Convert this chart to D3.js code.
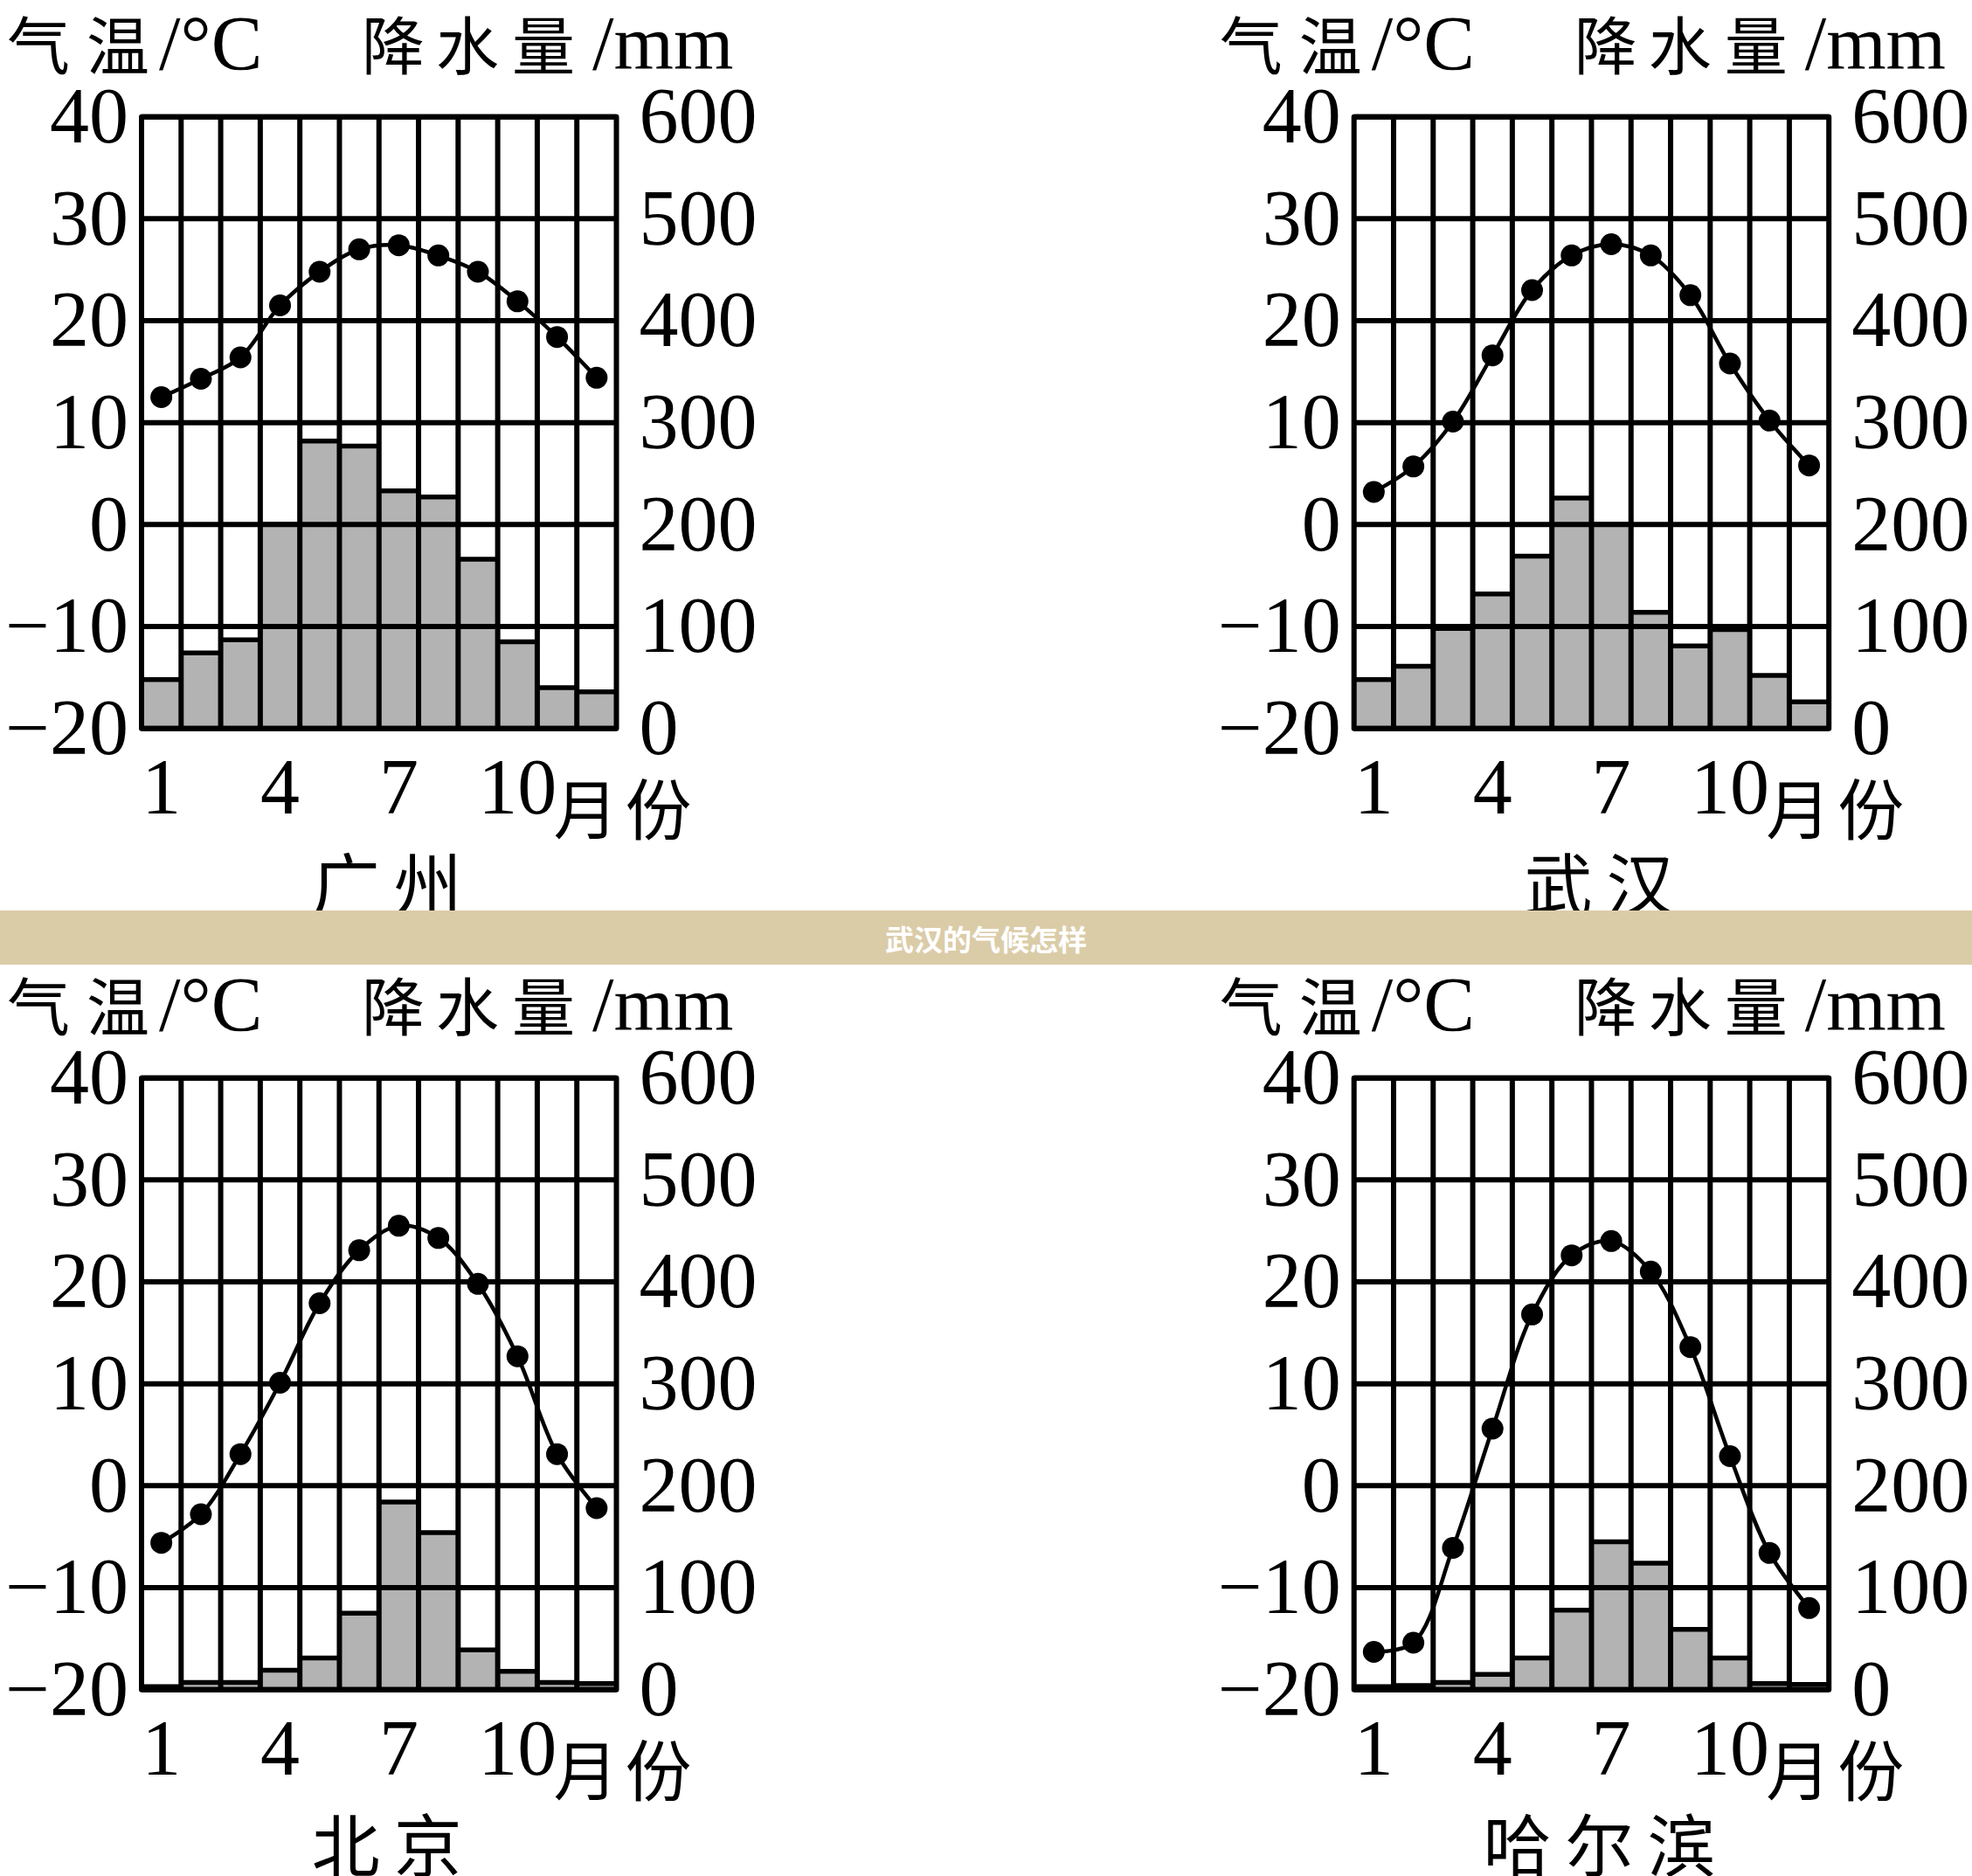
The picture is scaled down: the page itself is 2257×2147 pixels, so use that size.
<!DOCTYPE html>
<html lang="zh">
  <head>
    <meta charset="utf-8">
    <title>武汉的气候怎样</title>
    <script src="https://cdn.jsdelivr.net/npm/d3@7/dist/d3.min.js"></script>
    <style>
      body { margin: 0; background: #fff; }
      svg { display: block; }
    </style>
  </head>
  <body>
    <div id="chart"></div>
    <script>
      // months and tick values
      var months = [1, 2, 3, 4, 5, 6, 7, 8, 9, 10, 11, 12];
      var monthTicks = [1, 4, 7, 10];
      var tempTicks = [-20, -10, 0, 10, 20, 30, 40];
      var precipTicks = [0, 100, 200, 300, 400, 500, 600];

      var cityNames = ["广州", "武汉", "北京", "哈尔滨"];

      // monthly mean temperature, °C
      var gzTemp = [12.5, 14.3, 16.4, 21.5, 24.8, 27.0, 27.4, 26.4, 24.8, 21.9, 18.4, 14.4];
      var whTemp = [3.2, 5.7, 10.1, 16.6, 23.0, 26.4, 27.5, 26.4, 22.5, 15.8, 10.2, 5.8];
      var bjTemp = [-5.6, -2.8, 3.1, 10.1, 17.9, 23.1, 25.5, 24.3, 19.8, 12.7, 3.1, -2.2];
      var hebTemp = [-16.3, -15.4, -6.1, 5.6, 16.8, 22.6, 24.0, 21.0, 13.6, 2.9, -6.6, -12.0];

      // monthly precipitation, mm
      var gzPrecip = [48, 74, 87, 200, 282, 277, 233, 227, 166, 85, 40, 36];
      var whPrecip = [48, 61, 98, 132, 169, 226, 200, 114, 81, 97, 52, 26];
      var bjPrecip = [3, 7, 7, 19, 31, 75, 184, 154, 39, 18, 7, 6];
      var hebPrecip = [3, 4, 7, 15, 31, 78, 145, 124, 59, 31, 6, 5];

      var tempSeries = [gzTemp, whTemp, bjTemp, hebTemp];
      var precipSeries = [gzPrecip, whPrecip, bjPrecip, hebPrecip];

      var W = 543.5, H = 700;
      var origins = [[162, 133.7], [1549.7, 133.7], [162, 1233.7], [1549.7, 1233.7]];

      var serif = "'Liberation Serif', 'DejaVu Serif', serif";
      var cjk = "'Noto Sans CJK SC', 'Noto Sans CJK TC', sans-serif";

      var svg = d3.select("#chart").append("svg")
          .attr("width", 2257)
          .attr("height", 2147);

      svg.append("rect").attr("width", 2257).attr("height", 2147).attr("fill", "#fff");

      var x = d3.scaleBand().domain(months).range([0, W]).padding(0);
      var yT = d3.scaleLinear().domain([-20, 40]).range([H, 0]);
      var yP = d3.scaleLinear().domain([0, 600]).range([H, 0]);
      var bw = x.bandwidth();

      function fmt(d) { return d < 0 ? "\u2212" + Math.abs(d) : String(d); }

      function label(g, txt, px, py, font, size, anchor) {
        return g.append("text")
            .attr("x", px).attr("y", py)
            .attr("font-family", font)
            .attr("font-size", size)
            .attr("text-anchor", anchor || "start")
            .attr("dominant-baseline", "central")
            .text(txt);
      }

      for (var i = 0; i < 4; i++) {
        var g = svg.append("g")
            .attr("transform", "translate(" + origins[i][0] + "," + origins[i][1] + ")");
        var temp = tempSeries[i], precip = precipSeries[i];

        // precipitation bars
        g.selectAll("rect.bar")
            .data(precip)
            .enter()
            .append("rect")
            .attr("class", "bar")
            .attr("x", function(d, j) { return x(months[j]); })
            .attr("y", function(d) { return yP(d); })
            .attr("width", bw)
            .attr("height", function(d) { return H - yP(d); })
            .attr("fill", "#b3b3b3");

        g.selectAll("line.bartop")
            .data(precip)
            .enter()
            .append("line")
            .attr("class", "bartop")
            .attr("x1", function(d, j) { return x(months[j]); })
            .attr("x2", function(d, j) { return x(months[j]) + bw; })
            .attr("y1", function(d) { return yP(d); })
            .attr("y2", function(d) { return yP(d); })
            .attr("stroke", "#000")
            .attr("stroke-width", 5.5);

        // grid
        g.selectAll("line.hgrid")
            .data(tempTicks)
            .enter()
            .append("line")
            .attr("x1", 0).attr("x2", W)
            .attr("y1", function(d) { return yT(d); })
            .attr("y2", function(d) { return yT(d); })
            .attr("stroke", "#000")
            .attr("stroke-width", 6);

        g.selectAll("line.vgrid")
            .data(months.slice(1))
            .enter()
            .append("line")
            .attr("x1", function(d) { return x(d); })
            .attr("x2", function(d) { return x(d); })
            .attr("y1", 0).attr("y2", H)
            .attr("stroke", "#000")
            .attr("stroke-width", 6);

        g.append("rect")
            .attr("width", W).attr("height", H)
            .attr("fill", "none")
            .attr("stroke", "#000")
            .attr("stroke-width", 6)
            .attr("stroke-linejoin", "round");

        // temperature curve
        var line = d3.line()
            .x(function(d, j) { return x(months[j]) + bw / 2; })
            .y(function(d) { return yT(d); })
            .curve(d3.curveCatmullRom.alpha(0.5));

        g.append("path")
            .datum(temp)
            .attr("d", line)
            .attr("fill", "none")
            .attr("stroke", "#000")
            .attr("stroke-width", 4.5);

        g.selectAll("circle.dot")
            .data(temp)
            .enter()
            .append("circle")
            .attr("cx", function(d, j) { return x(months[j]) + bw / 2; })
            .attr("cy", function(d) { return yT(d); })
            .attr("r", 12.5)
            .attr("fill", "#000");

        // axes (labels only)
        var left = g.append("g")
            .call(d3.axisLeft(yT).tickValues(tempTicks).tickSize(0).tickPadding(15).tickFormat(fmt));
        var right = g.append("g")
            .attr("transform", "translate(" + W + ",0)")
            .call(d3.axisRight(yP).tickValues(precipTicks).tickSize(0).tickPadding(26));
        var bottom = g.append("g")
            .attr("transform", "translate(0," + H + ")")
            .call(d3.axisBottom(x).tickValues(monthTicks).tickSize(0).tickPadding(33));

        [left, right, bottom].forEach(function(a) {
          a.select(".domain").remove();
          a.attr("font-family", serif).attr("font-size", 90);
          a.selectAll("text").attr("fill", "#000");
        });

        // header
        var hy = -86;
        label(g, "气", -154, hy, cjk, 72);
        label(g, "温", -63, hy, cjk, 72);
        label(g, "/°C", 20, hy + 2, serif, 88);
        label(g, "降", 252, hy, cjk, 72);
        label(g, "水", 337, hy, cjk, 72);
        label(g, "量", 424, hy, cjk, 72);
        label(g, "/mm", 516, hy + 2, serif, 88);

        // month label
        label(g, "月", W - 35, H + 88, cjk, 74, "middle");
        label(g, "份", W + 48, H + 88, cjk, 76, "middle");

        // city name
        var chars = cityNames[i].split("");
        g.selectAll("text.city")
            .data(chars)
            .enter()
            .append("text")
            .attr("class", "city")
            .attr("x", function(d, k) { return W / 2 + 9 + (k - (chars.length - 1) / 2) * 94; })
            .attr("y", H + 174)
            .attr("font-family", cjk)
            .attr("font-size", 78)
            .attr("text-anchor", "middle")
            .attr("dominant-baseline", "central")
            .text(function(d) { return d; });
      }

      // banner across the middle
      svg.append("rect")
          .attr("x", 0).attr("y", 1042)
          .attr("width", 2257).attr("height", 62)
          .attr("fill", "#dbcca8");
      svg.append("text")
          .attr("x", 1128.5).attr("y", 1074)
          .attr("text-anchor", "middle")
          .attr("dominant-baseline", "central")
          .attr("font-family", cjk)
          .attr("font-weight", "bold")
          .attr("font-size", 33)
          .attr("fill", "#fff")
          .text("武汉的气候怎样");
    </script>
  </body>
</html>
